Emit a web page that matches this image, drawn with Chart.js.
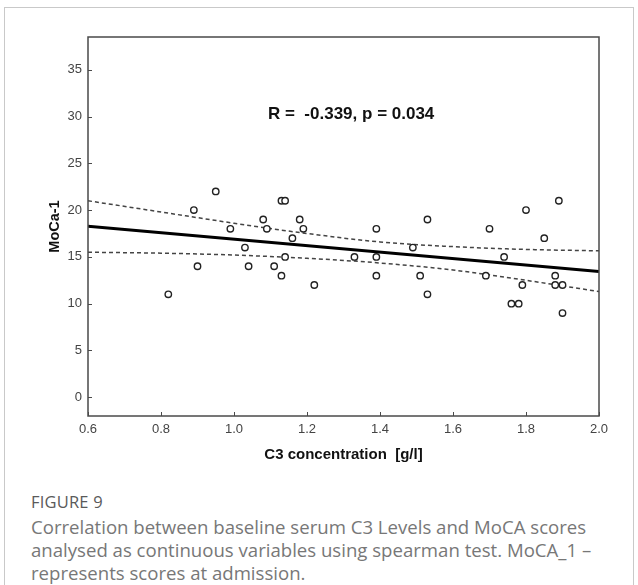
<!DOCTYPE html>
<html>
<head>
<meta charset="utf-8">
<script src="https://cdn.jsdelivr.net/npm/chart.js@4.4.1/dist/chart.umd.min.js"></script>
<style>
  html, body { margin: 0; padding: 0; background: #fff; }
  body { width: 638px; height: 585px; position: relative; overflow: hidden; }
  .card {
    position: absolute; left: 4px; top: 7px; width: 628px; height: 600px;
    border: 1px solid #c9c9c9; border-bottom: none;
  }
  #plot { position: absolute; left: 0; top: 0; }
  .fig-label {
    position: absolute; left: 31px; top: 491px; line-height: 22px;
    font-family: "Open Sans", "Noto Sans", sans-serif; font-size: 16.5px;
    color: #5a5a5a; letter-spacing: 0.2px;
  }
  .fig-caption {
    position: absolute; left: 31px; top: 515px; width: 600px;
    font-family: "Open Sans", "Noto Sans", sans-serif; font-size: 18.6px;
    line-height: 23px; color: #777;
  }
</style>
</head>
<body>
<div class="card"></div>
<canvas id="plot" width="638" height="470"></canvas>
<div class="fig-label">FIGURE 9</div>
<div class="fig-caption">Correlation between baseline serum C3 Levels and MoCA scores analysed as continuous variables using spearman test. MoCA_1 &ndash; represents scores at admission.</div>

<script>
// C3 concentration [g/l] and MoCA score at admission, one entry per patient
var c3 = [0.82, 0.89, 0.90, 0.95, 0.99, 1.03, 1.04, 1.08, 1.09, 1.11,
          1.13, 1.13, 1.14, 1.14, 1.16, 1.18, 1.19, 1.22, 1.33, 1.39,
          1.39, 1.39, 1.49, 1.51, 1.53, 1.53, 1.69, 1.70, 1.74, 1.76,
          1.78, 1.79, 1.80, 1.85, 1.88, 1.88, 1.89, 1.90, 1.90];
var moca = [11, 20, 14, 22, 18, 16, 14, 19, 18, 14,
            13, 21, 21, 15, 17, 19, 18, 12, 15, 18,
            15, 13, 16, 13, 19, 11, 13, 18, 15, 10,
            10, 12, 20, 17, 13, 12, 21, 12, 9];

// regression line and its 95% confidence band
var fitX = [0.6, 2.0];
var fitY = [18.28, 13.45];
var bandX = [0.6, 0.8, 1.0, 1.2, 1.4, 1.6, 1.8, 2.0];
var bandUpper = [21.0, 19.8, 18.6, 17.5, 16.6, 16.1, 15.8, 15.65];
var bandLower = [15.5, 15.4, 15.2, 14.85, 14.35, 13.6, 12.5, 11.3];

var xTicks = [0.6, 0.8, 1.0, 1.2, 1.4, 1.6, 1.8, 2.0];
var yTicks = [0, 5, 10, 15, 20, 25, 30, 35];

var statText = 'R =  -0.339, p = 0.034';

function pairs(xs, ys) {
  return xs.map(function (v, i) { return { x: v, y: ys[i] }; });
}

var axisFont = { family: '"Liberation Sans", Arial, sans-serif', size: 13 };

// box frame, inward tick marks, axis titles and the R/p label
var framePlugin = {
  id: 'frame',
  afterDraw: function (chart) {
    var ctx = chart.ctx, a = chart.chartArea;
    var xs = chart.scales.x, ys = chart.scales.y;
    ctx.save();
    ctx.strokeStyle = '#4a4a4a';
    ctx.lineWidth = 1.5;
    ctx.strokeRect(a.left, a.top, a.right - a.left, a.bottom - a.top);

    ctx.lineWidth = 1;
    ctx.beginPath();
    xTicks.forEach(function (v) {
      var px = Math.round(xs.getPixelForValue(v)) + 0.5;
      ctx.moveTo(px, a.bottom);
      ctx.lineTo(px, a.bottom - 4);
    });
    yTicks.forEach(function (v) {
      var py = Math.round(ys.getPixelForValue(v)) + 0.5;
      ctx.moveTo(a.left, py);
      ctx.lineTo(a.left + 4, py);
    });
    ctx.stroke();

    ctx.fillStyle = '#111';
    ctx.textAlign = 'center';
    ctx.textBaseline = 'middle';
    ctx.font = 'bold 15px "Liberation Sans", Arial, sans-serif';
    ctx.fillText('C3 concentration  [g/l]', (a.left + a.right) / 2, 455);

    ctx.save();
    ctx.translate(55, (a.top + a.bottom) / 2);
    ctx.rotate(-Math.PI / 2);
    ctx.font = 'bold 14.5px "Liberation Sans", Arial, sans-serif';
    ctx.fillText('MoCa-1', 0, 0);
    ctx.restore();

    ctx.textAlign = 'left';
    ctx.font = 'bold 17px "Liberation Sans", Arial, sans-serif';
    ctx.fillText(statText, 268, 114);
    ctx.restore();
  }
};

new Chart(document.getElementById('plot'), {
  type: 'scatter',
  data: {
    datasets: [
      {
        data: pairs(c3, moca),
        pointRadius: 3.2,
        pointBorderWidth: 1.4,
        borderColor: '#222',
        backgroundColor: '#fff',
        order: 0
      },
      {
        data: pairs(fitX, fitY),
        showLine: true,
        pointRadius: 0,
        borderColor: '#000',
        borderWidth: 3,
        order: 1
      },
      {
        data: pairs(bandX, bandUpper),
        showLine: true,
        pointRadius: 0,
        borderColor: '#444',
        borderWidth: 1.5,
        borderDash: [4, 3],
        cubicInterpolationMode: 'monotone',
        order: 2
      },
      {
        data: pairs(bandX, bandLower),
        showLine: true,
        pointRadius: 0,
        borderColor: '#444',
        borderWidth: 1.5,
        borderDash: [4, 3],
        cubicInterpolationMode: 'monotone',
        order: 2
      }
    ]
  },
  options: {
    responsive: false,
    animation: false,
    devicePixelRatio: 1,
    layout: { padding: { left: 0, top: 37, right: 39, bottom: 0 } },
    plugins: {
      legend: { display: false },
      tooltip: { enabled: false }
    },
    scales: {
      x: {
        type: 'linear',
        min: 0.6,
        max: 2.0,
        grid: { display: false, drawTicks: false },
        border: { display: false },
        afterBuildTicks: function (s) {
          s.ticks = xTicks.map(function (v) { return { value: v }; });
        },
        afterFit: function (s) { s.height = 54; },
        ticks: {
          padding: 6,
          color: '#444',
          font: axisFont,
          autoSkip: false,
          maxRotation: 0,
          callback: function (v) { return Number(v).toFixed(1); }
        }
      },
      y: {
        type: 'linear',
        min: -2,
        max: 38.5,
        grid: { display: false, drawTicks: false },
        border: { display: false },
        afterBuildTicks: function (s) {
          s.ticks = yTicks.map(function (v) { return { value: v }; });
        },
        afterFit: function (s) { s.width = 88; },
        ticks: {
          padding: 6,
          color: '#444',
          font: axisFont
        }
      }
    }
  },
  plugins: [framePlugin]
});
</script>
</body>
</html>
